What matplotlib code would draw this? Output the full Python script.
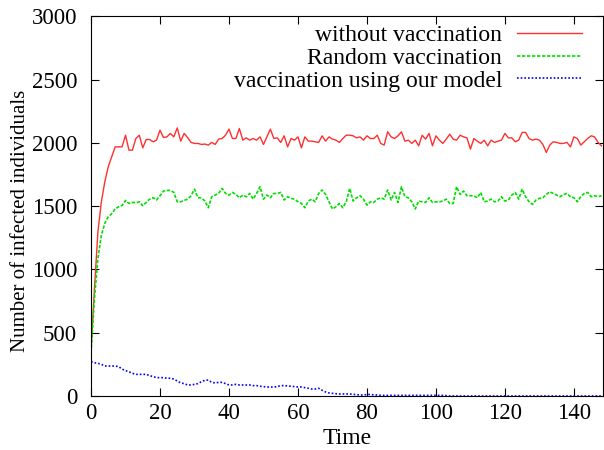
import numpy as np
import matplotlib
matplotlib.use('Agg')
import matplotlib.pyplot as plt

# number of infected individuals per time step
time = np.arange(0, 149)

no_vacc = [
    360, 850, 1297, 1534, 1692, 1811, 1890, 1968, 1968, 1968,
    2060, 1942, 1942, 2034, 2060, 1960, 2026, 2026, 2008, 2021,
    2100, 2042, 2047, 2074, 2047, 2118, 2013, 2074, 2042, 2003,
    1995, 1995, 1987, 1990, 1982, 2003, 1987, 2029, 2034, 2060,
    2108, 2034, 2034, 2113, 2021, 2039, 2021, 2034, 2021, 2047,
    1987, 2047, 2108, 2034, 2039, 2003, 2055, 1968, 2034, 2021,
    2047, 1960, 2047, 2013, 2013, 2008, 2003, 2055, 2013, 2047,
    2029, 2021, 2003, 2034, 2060, 2060, 2055, 2039, 2047, 2021,
    2055, 2034, 2034, 2060, 1995, 1982, 2087, 2047, 2034, 2055,
    2087, 2013, 2021, 1995, 2021, 1976, 2060, 2029, 2074, 1976,
    2055, 2021, 1995, 2029, 2068, 2029, 2021, 2060, 2047, 2039,
    1950, 2034, 2013, 1995, 2021, 1976, 2021, 2003, 2013, 2021,
    2074, 2039, 2039, 2008, 2021, 2082, 2082, 2034, 2021, 2029,
    2021, 1987, 1924, 1982, 2008, 2003, 1995, 1995, 2003, 1968,
    2047, 2034, 1982, 2008, 2034, 2055, 2047, 2003, 1976,
]

random_vacc = [
    340, 772, 1087, 1271, 1364, 1416, 1440, 1478, 1495, 1505,
    1545, 1521, 1529, 1527, 1534, 1503, 1529, 1555, 1566, 1548,
    1582, 1619, 1624, 1624, 1608, 1534, 1534, 1545, 1555, 1582,
    1634, 1566, 1566, 1540, 1487, 1574, 1587, 1600, 1640, 1600,
    1587, 1608, 1592, 1566, 1587, 1574, 1600, 1555, 1600, 1653,
    1555, 1587, 1566, 1600, 1600, 1608, 1548, 1574, 1561, 1555,
    1534, 1521, 1487, 1540, 1555, 1534, 1600, 1627, 1592, 1534,
    1477, 1495, 1521, 1487, 1534, 1640, 1540, 1566, 1582, 1555,
    1508, 1534, 1529, 1555, 1566, 1555, 1627, 1548, 1608, 1529,
    1653, 1574, 1566, 1534, 1477, 1540, 1534, 1529, 1566, 1529,
    1534, 1534, 1540, 1555, 1521, 1521, 1653, 1592, 1619, 1582,
    1582, 1582, 1566, 1608, 1534, 1540, 1555, 1534, 1540, 1574,
    1540, 1548, 1587, 1608, 1555, 1634, 1574, 1534, 1513, 1548,
    1561, 1566, 1592, 1613, 1600, 1587, 1574, 1592, 1600, 1574,
    1566, 1534, 1574, 1600, 1608, 1574, 1582, 1574, 1582,
]

model_vacc = [
    271, 263, 258, 250, 237, 237, 237, 237, 232, 213,
    200, 192, 179, 171, 171, 171, 171, 161, 153, 145,
    145, 145, 140, 140, 134, 119, 103, 98, 87, 87,
    92, 98, 113, 124, 126, 108, 103, 108, 108, 98,
    87, 87, 92, 87, 87, 87, 87, 82, 82, 77,
    74, 71, 71, 71, 74, 82, 82, 79, 77, 74,
    71, 71, 66, 61, 55, 55, 61, 45, 32, 24,
    21, 18, 16, 16, 16, 16, 13, 11, 8, 8,
    11, 13, 8, 8, 5, 5, 5, 5, 5, 5,
    5, 5, 5, 5, 5, 5, 5, 5, 5, 5,
    5, 5, 5, 3, 0, 0, 0, 0, 0, 0,
    0, 0, 0, 0, 0, 0, 0, 0, 0, 0,
    0, 0, 0, 0, 0, 0, 0, 0, 0, 0,
    0, 0, 0, 0, 0, 0, 0, 0, 0, 0,
    0, 0, 0, 0, 0, 0, 0, 0, 0,
]

plt.rcParams['font.family'] = ['Liberation Serif', 'DejaVu Serif']

fig = plt.figure(figsize=(6.04, 4.5), dpi=100)
ax = fig.add_axes([0.1507, 0.12, 0.848, 0.844])

ax.plot(time, no_vacc, color='#ff3030', lw=1.0, label='without vaccination')
ax.plot(time, random_vacc, color='#00e000', lw=1.2, linestyle=(0, (2, 1)),
        label='Random vaccination')
ax.plot(time, model_vacc, color='#0000ff', lw=1.2, linestyle=(0, (1, 1.2)),
        label='vaccination using our model')

ax.set_xlim(0, 148.5)
ax.set_ylim(0, 3000)
ax.set_xticks(range(0, 141, 20))
ax.set_yticks(range(0, 3001, 500))
ax.tick_params(direction='in', top=True, right=True, length=6, labelsize=16.5)
ax.tick_params(axis='y', pad=10)
ax.tick_params(axis='x', pad=5)
ax.set_xlabel('Time', fontsize=17, labelpad=3)
ax.set_ylabel('Number of infected individuals', fontsize=15)
ax.yaxis.set_label_coords(-0.12, 0.46)

ax.legend(loc='upper right', bbox_to_anchor=(0.959, 0.978), frameon=False,
          markerfirst=False, fontsize=17, handlelength=2.75,
          borderaxespad=0, borderpad=0, labelspacing=0.05,
          handletextpad=0.64)

fig.savefig('out.png', dpi=100)
